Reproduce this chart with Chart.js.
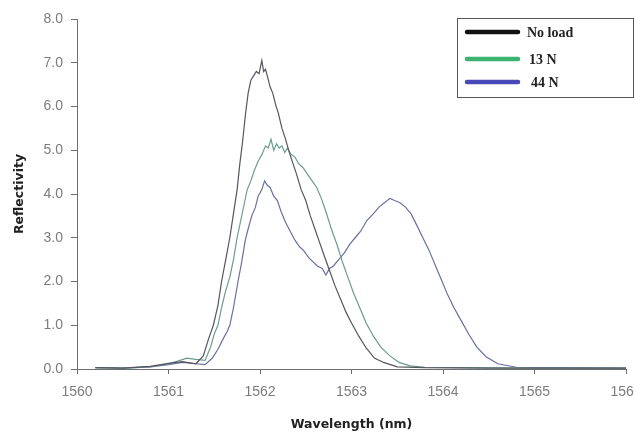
<!DOCTYPE html>
<html>
<head>
<meta charset="utf-8">
<script src="https://cdn.jsdelivr.net/npm/chart.js@4"></script>
<style>
  html, body { margin: 0; padding: 0; background: #fff; overflow: hidden; }
  #wrap { width: 634px; height: 432px; }
</style>
</head>
<body>
<div id="wrap"><canvas id="grafico" width="634" height="432"></canvas></div>
<script>
// ---- data ----
const seriesLabels = ['No load', '13 N', '44 N'];

const lambdaNoLoad = [1560.2, 1560.5, 1560.8, 1561.0, 1561.15, 1561.3, 1561.38, 1561.44, 1561.49, 1561.54,
  1561.58, 1561.63, 1561.67, 1561.71, 1561.75, 1561.78, 1561.81, 1561.84, 1561.87, 1561.9,
  1561.93, 1561.96, 1561.99, 1562.02, 1562.04, 1562.06, 1562.08, 1562.11, 1562.14, 1562.17,
  1562.2, 1562.24, 1562.28, 1562.32, 1562.36, 1562.4, 1562.45, 1562.5, 1562.55, 1562.6,
  1562.65, 1562.7, 1562.76, 1562.82, 1562.88, 1562.94, 1563.0, 1563.08, 1563.16, 1563.25,
  1563.35, 1563.5, 1563.8, 1564.5, 1565.5, 1566];
const reflNoLoad = [0.03, 0.02, 0.06, 0.13, 0.17, 0.12, 0.3, 0.7, 1.0, 1.45,
  2.0, 2.55, 3.0, 3.55, 4.1, 4.7, 5.2, 5.8, 6.3, 6.6,
  6.7, 6.8, 6.75, 7.05, 6.8, 6.85, 6.7, 6.45, 6.3, 6.05,
  5.85, 5.5, 5.25, 4.95, 4.7, 4.45, 4.1, 3.85, 3.5, 3.2,
  2.9, 2.6, 2.25, 1.9, 1.6, 1.3, 1.05, 0.75, 0.48, 0.25,
  0.15, 0.05, 0.03, 0.02, 0.02, 0.02];

const lambda13N = [1560.2, 1560.5, 1560.8, 1561.0, 1561.1, 1561.2, 1561.3, 1561.4, 1561.46, 1561.5,
  1561.54, 1561.58, 1561.62, 1561.67, 1561.71, 1561.75, 1561.79, 1561.83, 1561.86, 1561.9,
  1561.94, 1561.98, 1562.02, 1562.06, 1562.09, 1562.12, 1562.15, 1562.18, 1562.21, 1562.24,
  1562.27, 1562.3, 1562.34, 1562.38, 1562.42, 1562.47, 1562.52, 1562.57, 1562.62, 1562.67,
  1562.72, 1562.78, 1562.84, 1562.9, 1562.96, 1563.02, 1563.09, 1563.16, 1563.24, 1563.32,
  1563.42, 1563.52, 1563.64, 1563.8, 1564.2, 1565.0, 1566];
const refl13N = [0.03, 0.02, 0.05, 0.12, 0.18, 0.25, 0.22, 0.2, 0.5, 0.8,
  1.0, 1.4, 1.75, 2.1, 2.5, 3.0, 3.4, 3.8, 4.1, 4.3,
  4.55, 4.75, 4.9, 5.1, 5.05, 5.25, 5.0, 5.15, 5.05, 5.1,
  4.95, 5.05, 4.9, 4.85, 4.7, 4.6, 4.45, 4.3, 4.15, 3.9,
  3.6, 3.2, 2.85, 2.45, 2.1, 1.75, 1.4, 1.05, 0.75, 0.5,
  0.3, 0.15, 0.07, 0.04, 0.03, 0.02, 0.02];

const lambda44N = [1560.2, 1560.5, 1560.8, 1561.0, 1561.15, 1561.3, 1561.4, 1561.48, 1561.54, 1561.6,
  1561.64, 1561.67, 1561.71, 1561.76, 1561.8, 1561.84, 1561.87, 1561.91, 1561.95, 1561.98,
  1562.02, 1562.05, 1562.08, 1562.11, 1562.15, 1562.19, 1562.23, 1562.28, 1562.33, 1562.38,
  1562.43, 1562.48, 1562.53, 1562.58, 1562.63, 1562.68, 1562.72, 1562.76, 1562.8, 1562.86,
  1562.92, 1562.98, 1563.04, 1563.1, 1563.17, 1563.24, 1563.3, 1563.36, 1563.42, 1563.47,
  1563.53, 1563.59, 1563.65, 1563.71, 1563.78, 1563.85, 1563.92, 1563.98, 1564.05, 1564.12,
  1564.2, 1564.28, 1564.37, 1564.47, 1564.6, 1564.8, 1565.2, 1566];
const refl44N = [0.03, 0.02, 0.05, 0.1, 0.15, 0.12, 0.1, 0.25, 0.45, 0.7,
  0.85, 1.0, 1.4, 2.0, 2.45, 2.95, 3.2, 3.5, 3.7, 3.95,
  4.1, 4.3, 4.2, 4.15, 3.95, 3.85, 3.6, 3.35, 3.15, 2.95,
  2.8, 2.7, 2.55, 2.45, 2.35, 2.3, 2.15, 2.3, 2.35, 2.5,
  2.65, 2.85, 3.0, 3.15, 3.4, 3.55, 3.7, 3.8, 3.9, 3.85,
  3.8, 3.7, 3.55, 3.3, 3.0, 2.7, 2.35, 2.05, 1.7, 1.4,
  1.1, 0.8, 0.5, 0.28, 0.12, 0.04, 0.03, 0.02];

// axis ranges / ticks
const xMin = 1560, xMax = 1566, xStep = 1;
const yMin = 0, yMax = 8, yStep = 1;

// ---- styles ----
const lineColors = ['#55555e', '#6a9c90', '#6870a2'];
const legendColors = ['#111111', '#3cb371', '#4848b8'];
const axisColor = '#6e6e6e';
const tickColor = '#7c7c7c';

function pares(xs, ys) {
  return xs.map((x, i) => ({ x: x, y: ys[i] }));
}

// legend box drawn inside the plot, top right
const legendaCaixa = {
  id: 'legendaCaixa',
  afterDraw(chart) {
    const ctx = chart.ctx;
    const box = { x: 457.5, y: 18.5, w: 176, h: 79 };
    ctx.save();
    ctx.fillStyle = '#ffffff';
    ctx.fillRect(box.x, box.y, box.w, box.h);
    ctx.strokeStyle = '#555555';
    ctx.lineWidth = 1;
    ctx.strokeRect(box.x, box.y, box.w, box.h);
    const rows = [32, 59, 82];
    chart.data.datasets.forEach((ds, i) => {
      ctx.strokeStyle = legendColors[i];
      ctx.lineWidth = 4.5;
      ctx.lineCap = 'round';
      ctx.beginPath();
      ctx.moveTo(467, rows[i]);
      ctx.lineTo(518, rows[i]);
      ctx.stroke();
      ctx.fillStyle = '#222222';
      ctx.font = "bold 14px 'Liberation Serif', serif";
      ctx.textBaseline = 'middle';
      ctx.fillText(ds.label, 527 + i * 2, rows[i] + 1);
    });
    ctx.restore();
  }
};

const ctx = document.getElementById('grafico').getContext('2d');
new Chart(ctx, {
  type: 'line',
  data: {
    datasets: [
      { label: seriesLabels[0], data: pares(lambdaNoLoad, reflNoLoad), borderColor: lineColors[0] },
      { label: seriesLabels[1], data: pares(lambda13N, refl13N), borderColor: lineColors[1] },
      { label: seriesLabels[2], data: pares(lambda44N, refl44N), borderColor: lineColors[2] }
    ]
  },
  options: {
    responsive: false,
    animation: false,
    layout: { padding: { top: 19, right: 8, left: 0, bottom: 0 } },
    elements: {
      point: { radius: 0 },
      line: { borderWidth: 1.2, tension: 0, fill: false }
    },
    plugins: {
      legend: { display: false },
      tooltip: { enabled: false }
    },
    scales: {
      x: {
        type: 'linear',
        min: xMin, max: xMax,
        ticks: {
          stepSize: xStep,
          color: tickColor,
          padding: 10,
          maxRotation: 0,
          callback: (v) => String(v),
          font: { family: "'Liberation Sans', Arial, sans-serif", size: 14 }
        },
        grid: { drawOnChartArea: false, drawTicks: true, tickLength: 5, color: axisColor },
        border: { color: axisColor, width: 1 },
        title: {
          display: true,
          text: 'Wavelength (nm)',
          color: '#222222',
          padding: { top: 4, bottom: 0 },
          font: { family: "'DejaVu Sans', sans-serif", size: 12.5, weight: 'bold' }
        },
        afterFit(scale) {
          scale.height = 63;
          scale.paddingLeft = 0;
          scale.paddingRight = 0;
        }
      },
      y: {
        min: yMin, max: yMax,
        ticks: {
          stepSize: yStep,
          color: tickColor,
          padding: 8,
          callback: (v) => Number(v).toFixed(1),
          font: { family: "'Liberation Sans', Arial, sans-serif", size: 14 }
        },
        grid: { drawOnChartArea: false, drawTicks: true, tickLength: 6, color: axisColor },
        border: { color: axisColor, width: 1 },
        title: {
          display: true,
          text: 'Reflectivity',
          color: '#222222',
          padding: { top: 12.5, bottom: 0 },
          font: { family: "'DejaVu Sans', sans-serif", size: 12.5, weight: 'bold' }
        },
        afterFit(scale) {
          scale.width = 77;
          scale.paddingTop = 0;
          scale.paddingBottom = 0;
        }
      }
    }
  },
  plugins: [legendaCaixa]
});
</script>
</body>
</html>
